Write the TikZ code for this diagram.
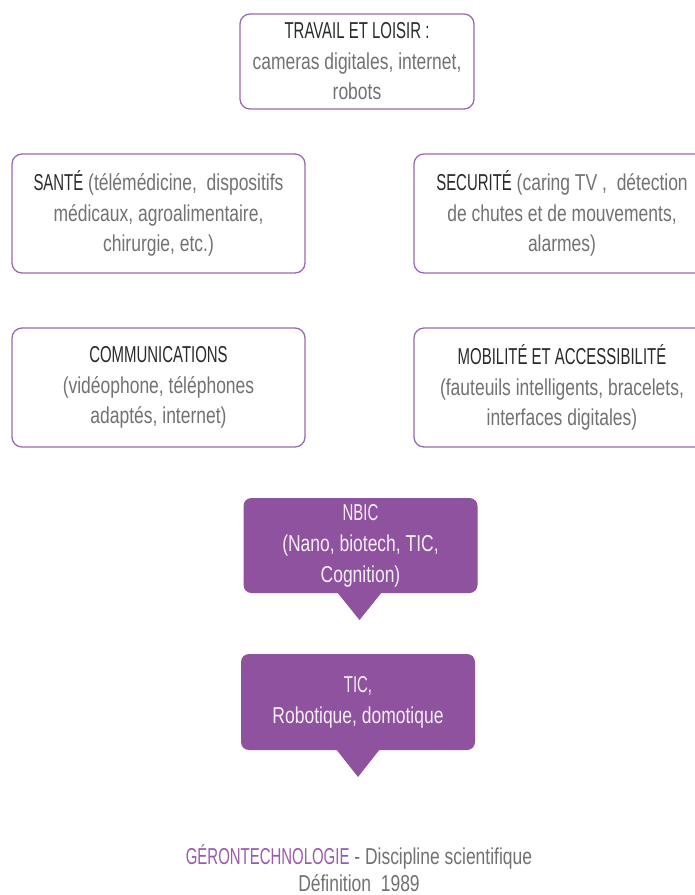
\documentclass[tikz,border=0pt]{standalone}
\usepackage{fontspec}
\setmainfont[FakeStretch=0.76]{Liberation Sans}
\newfontfamily\capsf[FakeStretch=0.65]{Liberation Sans}
\definecolor{pborder}{HTML}{9A6AB0}
\definecolor{pfill}{HTML}{8E529E}
\definecolor{gtext}{HTML}{727272}
\definecolor{dtext}{HTML}{2A2A2A}
\definecolor{ptext}{HTML}{9A5AAE}
\definecolor{wtext}{HTML}{F6EEF8}
\newcommand{\hd}[1]{{\capsf\color{dtext}#1}}
\tikzset{
  outbox/.style={draw=pborder, line width=1.3pt, rounded corners=10pt, fill=white,
    align=center, text=gtext, font=\fontsize{23}{30.5}\selectfont, inner sep=0pt},
  fillbox/.style={fill=pfill, draw=none, rounded corners=8pt,
    align=center, text=wtext, font=\fontsize{23}{31}\selectfont, inner sep=0pt},
  pointer/.style={fill=pfill, draw=none},
  plain/.style={align=center, text=gtext, font=\fontsize{23}{27}\selectfont, inner sep=0pt}
}
\begin{document}
\begin{tikzpicture}[x=1pt,y=-1pt]
\clip (0,0) rectangle (695,895);
\fill[white] (0,0) rectangle (695,895);
\node[outbox, minimum width=234pt, minimum height=95pt] (travail) at (357,61.5)
  {\hd{TRAVAIL ET LOISIR :}\\cameras digitales, internet,\\robots};
\node[outbox, minimum width=293pt, minimum height=119pt] (sante) at (158.5,213.5)
  {\hd{SANTÉ} (télémédicine,~ dispositifs\\médicaux, agroalimentaire,\\chirurgie, etc.)};
\node[outbox, minimum width=296pt, minimum height=119pt] (securite) at (562,213.5)
  {\hd{SECURITÉ} (caring TV ,~ détection\\de chutes et de mouvements,\\alarmes)};
\node[outbox, minimum width=293pt, minimum height=119pt] (comm) at (158.5,387.5)
  {\hd{COMMUNICATIONS}\\(vidéophone, téléphones\\adaptés, internet)};
\node[outbox, minimum width=296pt, minimum height=119pt] (mobil) at (562,387.5)
  {\hd{MOBILITÉ ET ACCESSIBILITÉ}\\(fauteuils intelligents, bracelets,\\interfaces digitales)};
\fill[pointer] (337,592) -- (382,592) -- (359.5,620) -- cycle;
\node[fillbox, minimum width=234pt, minimum height=95pt] (nbic) at (360.5,545.5)
  {{\capsf NBIC}\\(Nano, biotech, TIC,\\Cognition)};
\fill[pointer] (336,749) -- (380,749) -- (358,777) -- cycle;
\node[fillbox, minimum width=234pt, minimum height=96pt] (tic) at (358,702)
  {{\capsf TIC,}\\Robotique, domotique};
\node[plain] (geronto) at (359,868)
  {{\capsf\color{ptext}GÉRONTECHNOLOGIE} - Discipline scientifique\\Définition~ 1989};
\end{tikzpicture}
\end{document}
